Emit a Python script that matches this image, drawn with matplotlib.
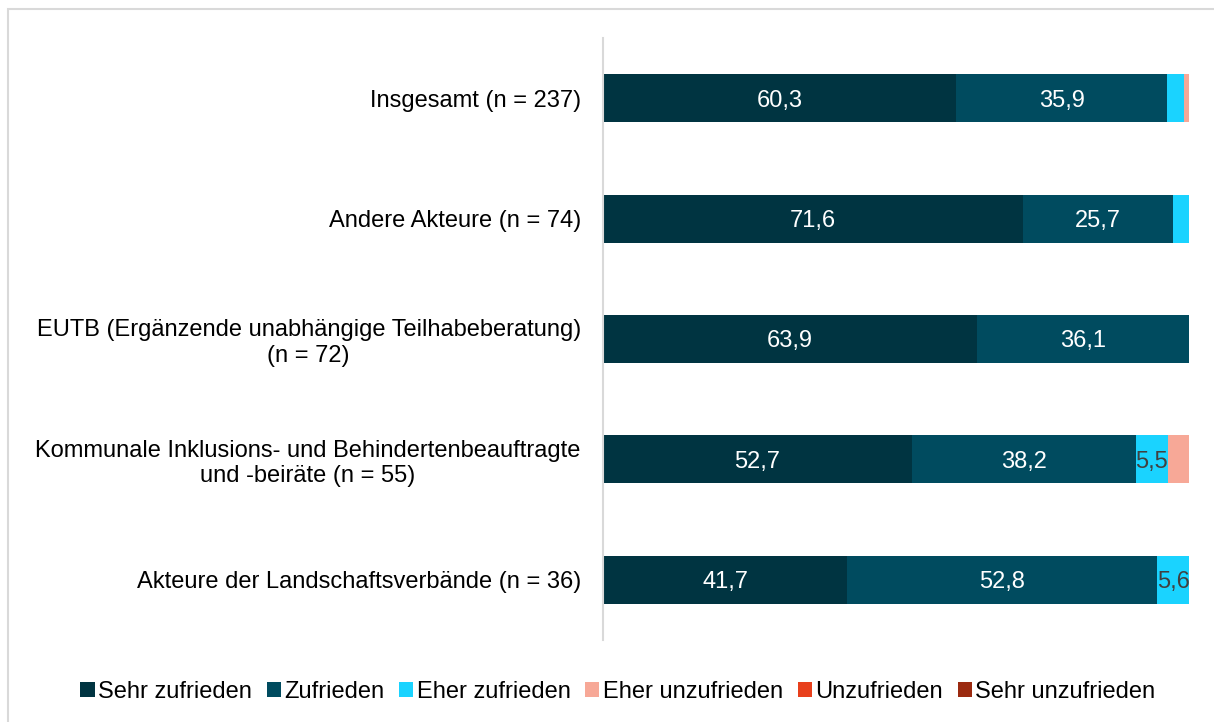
import matplotlib
matplotlib.use("Agg")
import matplotlib.pyplot as plt
from matplotlib.patches import Rectangle, Patch
import numpy as np

plt.rcParams['font.family'] = ['Liberation Sans', 'DejaVu Sans']

categories = [
    "Insgesamt (n = 237)",
    "Andere Akteure (n = 74)",
    "EUTB (Ergänzende unabhängige Teilhabeberatung)\n(n = 72)",
    "Kommunale Inklusions- und Behindertenbeauftragte\nund -beiräte (n = 55)",
    "Akteure der Landschaftsverbände (n = 36)",
]
series = ["Sehr zufrieden", "Zufrieden", "Eher zufrieden",
          "Eher unzufrieden", "Unzufrieden", "Sehr unzufrieden"]
sehr_zufrieden = [60.3, 71.6, 63.9, 52.7, 41.7]
zufrieden = [35.9, 25.7, 36.1, 38.2, 52.8]
eher_zufrieden = [3.0, 2.7, 0.0, 5.5, 5.6]
eher_unzufrieden = [0.8, 0.0, 0.0, 3.6, 0.0]
unzufrieden = [0.0, 0.0, 0.0, 0.0, 0.0]
sehr_unzufrieden = [0.0, 0.0, 0.0, 0.0, 0.0]

values = [sehr_zufrieden, zufrieden, eher_zufrieden,
          eher_unzufrieden, unzufrieden, sehr_unzufrieden]
colors = ["#003441", "#004b5f", "#1ad3ff", "#f7a897", "#e8401c", "#9b2a10"]
label_colors = ["white", "white", "#404040", "#404040", "white", "white"]

fig = plt.figure(figsize=(12.14, 7.22), dpi=100)
ax = fig.add_axes([603 / 1214, 1 - 640 / 722, 586 / 1214, 602 / 722])

y = np.arange(len(categories))
left = np.zeros(len(categories))
for vals, col, lc, name in zip(values, colors, label_colors, series):
    vals = np.array(vals)
    ax.barh(y, vals, left=left, height=0.4, color=col, label=name)
    for yi, v, l in zip(y, vals, left):
        if v >= 5:
            ax.text(l + v / 2, yi + 0.02, f"{v:.1f}".replace(".", ","),
                    ha="center", va="center", color=lc, fontsize=17)
    left += vals

ax.set_xlim(0, 100)
ax.set_ylim(len(categories) - 0.5, -0.5)
ax.set_yticks(y)
ax.set_yticklabels(categories, fontsize=17, ha="right", multialignment="center")
ax.tick_params(axis="y", length=0, pad=16)
ax.set_xticks([])
for s in ["top", "right", "bottom"]:
    ax.spines[s].set_visible(False)
ax.spines["left"].set_color("#d9d9d9")
ax.spines["left"].set_linewidth(1.5)

handles = [Patch(facecolor=c, edgecolor="none") for c in colors]
fig.legend(handles, series, loc="center", bbox_to_anchor=(618 / 1214, 1 - 692 / 722),
           ncol=6, frameon=False, fontsize=17, handlelength=0.6, handleheight=0.6,
           handletextpad=0.15, columnspacing=0.62)

border = Rectangle((8 / 1214, -0.01), 1.2, 1 - 9 / 722 + 0.01, transform=fig.transFigure,
                   fill=False, edgecolor="#d9d9d9", lw=1.5)
fig.patches.append(border)

fig.savefig("out.png", dpi=100)
